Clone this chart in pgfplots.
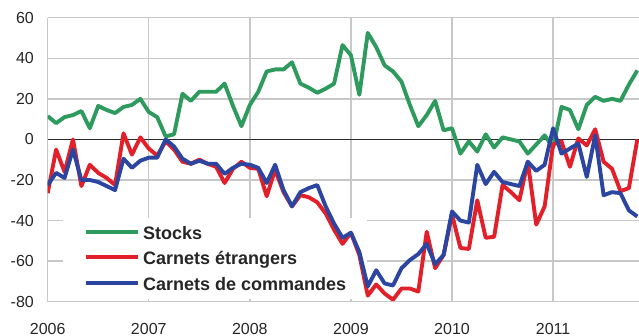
\documentclass[border=0pt]{standalone}
\usepackage{fontspec}
\setmainfont{Liberation Sans}
\usepackage{pgfplots}
\usepackage{pgfplotstable}
\pgfplotsset{compat=1.18}
\definecolor{cgreen}{HTML}{2E9A5E}
\definecolor{cred}{HTML}{E2202A}
\definecolor{cblue}{HTML}{2B45A0}
\definecolor{cgrid}{HTML}{C8C8C8}
\definecolor{czero}{HTML}{2A2A2A}
\pgfplotstableread{
m g r b
0 11.5 -26.5 -22.5
1 8 -5 -16.5
2 11 -16 -19
3 12 0 -5
4 14 -23 -20
5 5.5 -12.5 -20
6 16.5 -16.5 -21
7 14.5 -19 -23
8 13 -22.5 -25
9 16 3 -9.5
10 17 -7.5 -14
11 20 1 -10.5
12 13.5 -4.5 -9
13 11 -8 -9
14 1.5 -1 0
15 2.5 -5 -3.5
16 22.5 -11 -9.5
17 19 -12 -12
18 23.5 -10 -10.5
19 23.5 -12 -12
20 23.5 -13.5 -12
21 27.5 -21.5 -17
22 16.5 -14.5 -14
23 6.5 -11 -12
24 17 -14 -12.5
25 23.5 -14.5 -14
26 33.5 -28 -21.5
27 34.5 -15 -12.5
28 34.5 -26 -25
29 38 -33 -33
30 27.5 -27.5 -26
31 25.5 -28.5 -24
32 23 -31 -22.5
33 25 -36.5 -33
34 27.5 -44.5 -41.5
35 46.5 -51.5 -48.5
36 41.5 -46 -46
37 22 -57 -55.5
38 52.5 -77 -72.5
39 45.5 -71.5 -64.5
40 36.5 -76 -71
41 33.5 -79 -72
42 28.5 -73.5 -63.5
43 17 -73.5 -59.5
44 6.5 -75 -56.5
45 12 -45.5 -51.5
46 19 -63.5 -61.5
47 4.5 -57 -57
48 5.5 -37 -35.5
49 -7 -53.5 -40
50 -1 -54 -41
51 -6 -30 -12.5
52 2.5 -48.5 -22
53 -4 -48 -16
54 1 -22.5 -21
55 0 -26 -22
56 -1 -30 -23
57 -7 -11 -11
58 -2.5 -42 -15.5
59 2 -33 -12.5
60 -4 -2.5 5.5
61 16 -1 -7
62 14.5 -13.5 -4.5
63 5 0.5 -2
64 17 -3 -18.5
65 21 5 2
66 19 -11 -27.5
67 20 -14.5 -26
68 19 -25.5 -26.5
69 27 -24 -35
70 34 0 -38
}\data
\begin{document}
\begin{tikzpicture}
\useasboundingbox (-47.7bp,-34.3bp) rectangle (591.3bp,301.7bp);
\begin{axis}[
  at={(0,0)}, anchor=south west,
  scale only axis,
  width=591.3bp, height=284bp,
  xmin=0, xmax=70.2, ymin=-80, ymax=60,
  axis line style={draw=none},
  xtick={0,12,...,60},
  xticklabels={2006,2007,2008,2009,2010,2011},
  ytick={-80,-60,...,60},
  yticklabels={-80,-60,-40,-20,0,20,40,60},
  tick style={draw=none},
  grid=major,
  major grid style={cgrid, line width=1.4bp},
  ticklabel style={font=\fontsize{16bp}{19bp}\selectfont, text=black!85},
  yticklabel style={anchor=east, inner sep=0pt, xshift=-13.7bp},
  xticklabel style={anchor=north, inner sep=0pt, yshift=-21bp},
  legend cell align=left,
  legend image code/.code={\draw[#1] (0bp,0bp) -- (52bp,0bp);},
  legend style={at={(axis description cs:0.0259,0.3018)}, anchor=north west,
    draw=none, fill=none, inner xsep=21bp, inner ysep=3bp, column sep=3bp,
    row sep=0bp,
    font=\bfseries\fontsize{18bp}{21bp}\selectfont, text=black!85,
    nodes={inner xsep=0bp, inner ysep=3.25bp, text height=17bp, text depth=2bp}},
  every axis plot/.append style={line width=3.9bp, line join=round},
]
\fill[white] (axis cs:1.82,-38.6) rectangle (axis cs:37.92,-78.5);
\draw[czero, line width=1.5bp] (axis cs:0,0) -- (axis cs:70.2,0);
\pgfplotsinvokeforeach{0,12,24,36,48,60}{
  \draw[czero, line width=1.8bp] (axis cs:#1,0) ++(0,-6bp) -- ++(0,12bp);
}
\pgfplotsinvokeforeach{6,18,30,42,54,66}{
  \draw[czero, line width=1.4bp] (axis cs:#1,0) ++(0,-4.5bp) -- ++(0,9bp);
}
\addplot[cgreen] table[x=m, y=g] {\data};
\addplot[cred] table[x=m, y=r] {\data};
\addplot[cblue] table[x=m, y=b] {\data};
\legend{Stocks, Carnets étrangers, Carnets de commandes}
\end{axis}
\end{tikzpicture}
\end{document}
